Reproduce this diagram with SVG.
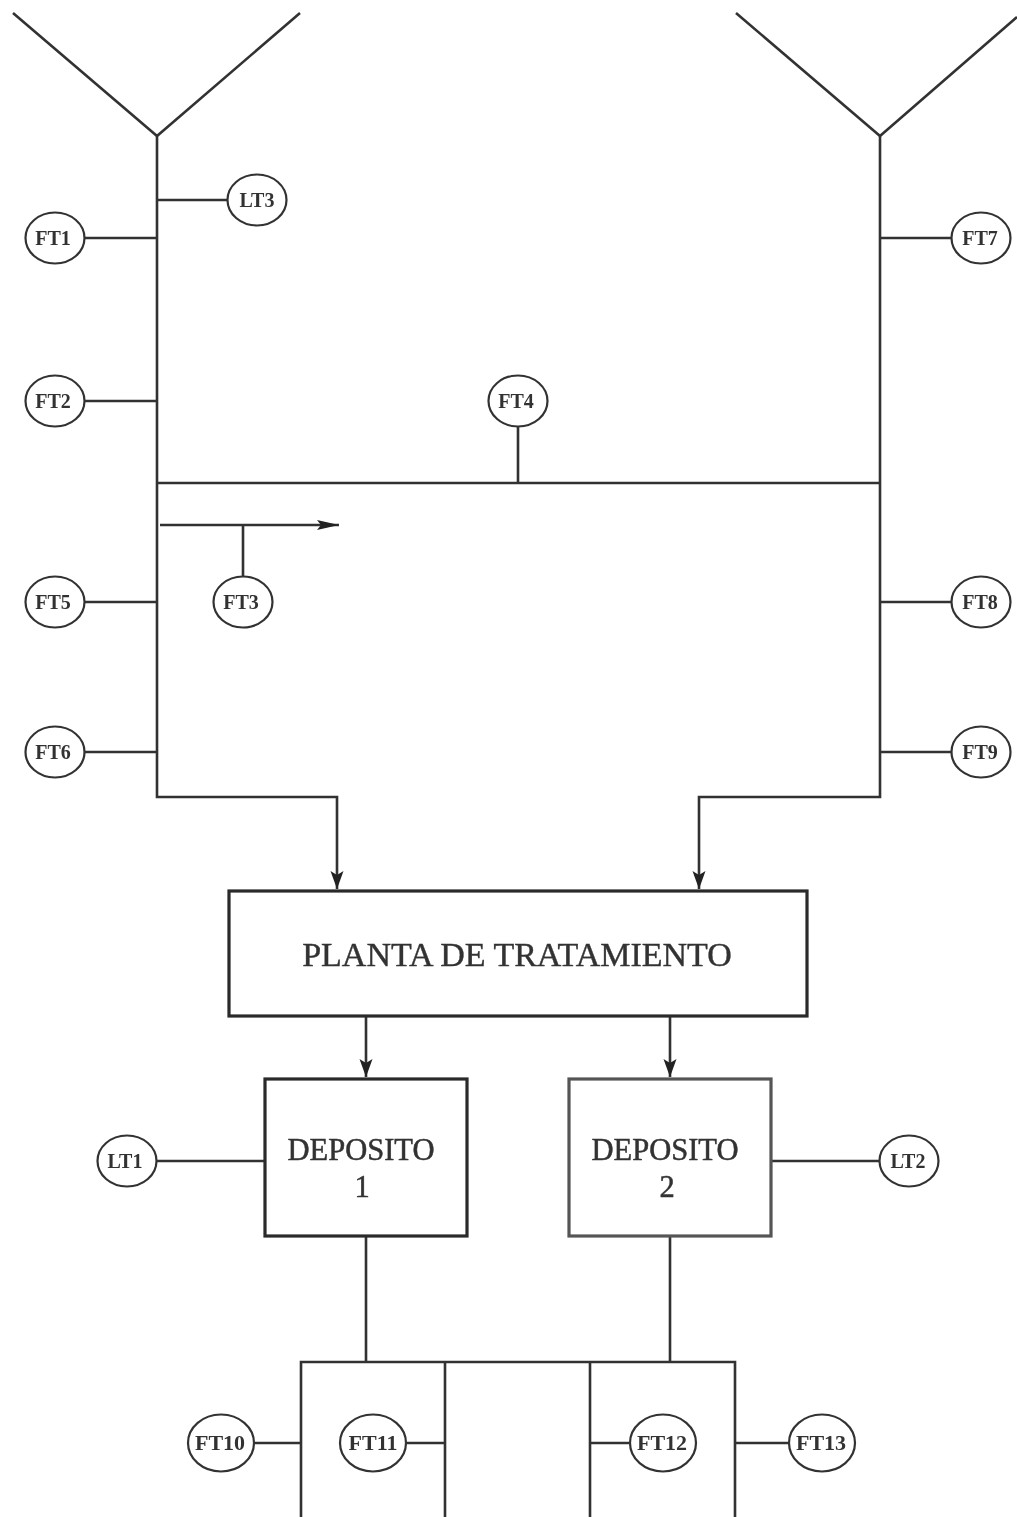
<svg xmlns="http://www.w3.org/2000/svg" width="1017" height="1517" viewBox="0 0 1017 1517">
<style>
.l{fill:none;stroke:#333;stroke-width:2.6}
.c{fill:#fff;stroke:#333;stroke-width:2.2}
.b{fill:#fff;stroke:#2a2a2a;stroke-width:3.2}
.t{font-family:"Liberation Serif","Times New Roman",serif;fill:#333;text-anchor:middle}
.s{font-size:20px;font-weight:bold}
.x{font-size:22px;font-weight:bold}
.m{font-size:34px;stroke:#333;stroke-width:.4}
.d{font-size:30.5px;stroke:#333;stroke-width:.5}
</style>
<defs>
<marker id="a" markerWidth="20" markerHeight="14" refX="18" refY="6.5" orient="auto" markerUnits="userSpaceOnUse"><path d="M0 0L18 6.5L0 13L4 6.5Z" fill="#222"/></marker>
<marker id="h" markerWidth="24" markerHeight="12" refX="22" refY="5" orient="auto" markerUnits="userSpaceOnUse"><path d="M0 0L22 5L0 10L4 5Z" fill="#222"/></marker>
<filter id="blur" filterUnits="userSpaceOnUse" x="0" y="0" width="1017" height="1517"><feGaussianBlur stdDeviation="0.55"/></filter>
</defs>
<rect width="1017" height="1517" fill="#fff"/>
<g filter="url(#blur)">
<g id="connectors" class="l">
<path d="M13 13L157 136L300 13"/>
<path d="M736 13L880 136L1017 17"/>
<path d="M157 136V797H337V889" marker-end="url(#a)"/>
<path d="M880 136V797H699V889" marker-end="url(#a)"/>
<path d="M157 483H880"/>
<path d="M518 483V426"/>
<path d="M157 200H228"/>
<path d="M85 238H157"/>
<path d="M85 401H157"/>
<path d="M85 602H157"/>
<path d="M85 752H157"/>
<path d="M880 238H952"/>
<path d="M880 602H952"/>
<path d="M880 752H952"/>
<path d="M160 525H339" marker-end="url(#h)"/>
<path d="M243 525V577"/>
<path d="M366 1016V1077" marker-end="url(#a)"/>
<path d="M670 1016V1077" marker-end="url(#a)"/>
<path d="M157 1161H265"/>
<path d="M771 1161H880"/>
<path d="M366 1236V1362"/>
<path d="M670 1236V1362"/>
<path d="M301 1517V1362H735V1517"/>
<path d="M445 1362V1517"/>
<path d="M590 1362V1517"/>
<path d="M250 1443H301"/>
<path d="M402 1443H445"/>
<path d="M590 1443H632"/>
<path d="M735 1443H792"/>
</g>
<g id="planta"><rect class="b" x="229" y="891" width="578" height="125"/><text class="t m" x="517" y="966">PLANTA DE TRATAMIENTO</text></g>
<g id="deposito1"><rect class="b" x="265" y="1079" width="202" height="157"/><text class="t d" x="361" y="1160">DEPOSITO</text><text class="t d" x="362" y="1197">1</text></g>
<g id="deposito2"><rect class="b" x="569" y="1079" width="202" height="157" style="stroke:#555"/><text class="t d" x="665" y="1160">DEPOSITO</text><text class="t d" x="667" y="1197">2</text></g>
<g id="FT1"><ellipse class="c" cx="55" cy="238" rx="29.5" ry="25.5"/><text class="t s" x="53" y="245">FT1</text></g>
<g id="LT3"><ellipse class="c" cx="257" cy="200" rx="29.5" ry="25.5"/><text class="t s" x="257" y="207">LT3</text></g>
<g id="FT2"><ellipse class="c" cx="55" cy="401" rx="29.5" ry="25.5"/><text class="t s" x="53" y="408">FT2</text></g>
<g id="FT4"><ellipse class="c" cx="518" cy="401" rx="29.5" ry="25.5"/><text class="t s" x="516" y="408">FT4</text></g>
<g id="FT5"><ellipse class="c" cx="55" cy="602" rx="29.5" ry="25.5"/><text class="t s" x="53" y="609">FT5</text></g>
<g id="FT3"><ellipse class="c" cx="243" cy="602" rx="29.5" ry="25.5"/><text class="t s" x="241" y="609">FT3</text></g>
<g id="FT6"><ellipse class="c" cx="55" cy="752" rx="29.5" ry="25.5"/><text class="t s" x="53" y="759">FT6</text></g>
<g id="FT7"><ellipse class="c" cx="981" cy="238" rx="29.5" ry="25.5"/><text class="t s" x="980" y="245">FT7</text></g>
<g id="FT8"><ellipse class="c" cx="981" cy="602" rx="29.5" ry="25.5"/><text class="t s" x="980" y="609">FT8</text></g>
<g id="FT9"><ellipse class="c" cx="981" cy="752" rx="29.5" ry="25.5"/><text class="t s" x="980" y="759">FT9</text></g>
<g id="LT1"><ellipse class="c" cx="127" cy="1161" rx="29.5" ry="25.5"/><text class="t s" x="125" y="1168">LT1</text></g>
<g id="LT2"><ellipse class="c" cx="909" cy="1161" rx="29.5" ry="25.5"/><text class="t s" x="908" y="1168">LT2</text></g>
<g id="FT10"><ellipse class="c" cx="221" cy="1443" rx="33" ry="28.5"/><text class="t x" x="220" y="1450">FT10</text></g>
<g id="FT11"><ellipse class="c" cx="373" cy="1443" rx="33" ry="28.5"/><text class="t x" x="373" y="1450">FT11</text></g>
<g id="FT12"><ellipse class="c" cx="663" cy="1443" rx="33" ry="28.5"/><text class="t x" x="662" y="1450">FT12</text></g>
<g id="FT13"><ellipse class="c" cx="822" cy="1443" rx="33" ry="28.5"/><text class="t x" x="821" y="1450">FT13</text></g>
</g>
</svg>
